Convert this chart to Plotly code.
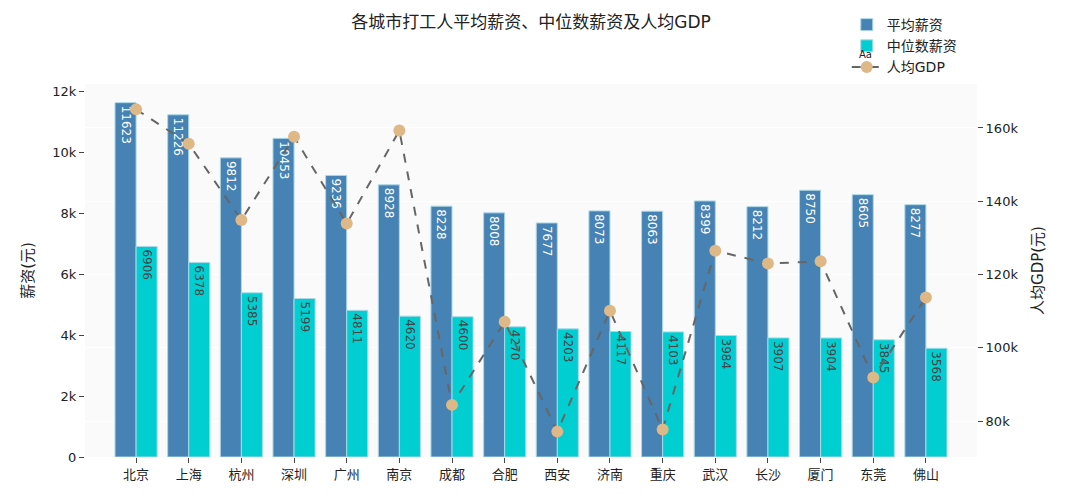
import plotly.graph_objects as go

cities = ["北京", "上海", "杭州", "深圳", "广州", "南京", "成都", "合肥", "西安", "济南", "重庆", "武汉", "长沙", "厦门", "东莞", "佛山"]
avg_salary = [11623, 11226, 9812, 10453, 9236, 8928, 8228, 8008, 7677, 8073, 8063, 8399, 8212, 8750, 8605, 8277]
median_salary = [6906, 6378, 5385, 5199, 4811, 4620, 4600, 4270, 4203, 4117, 4103, 3984, 3907, 3904, 3845, 3568]
gdp_per_capita = [165100, 155700, 134900, 157600, 133900, 159300, 84400, 107100, 77100, 110100, 77700, 126500, 123000, 123600, 91900, 113700]

font_family = "DejaVu Sans, Noto Sans CJK SC, sans-serif"

fig = go.Figure()
fig.add_trace(go.Bar(
    x=cities, y=avg_salary, name="平均薪资",
    marker=dict(color="#4682B4", line=dict(color="#ADD8E6", width=1)),
    text=avg_salary, textposition="inside", insidetextanchor="end", textangle=90,
    textfont=dict(color="white", size=12),
))
fig.add_trace(go.Bar(
    x=cities, y=median_salary, name="中位数薪资",
    marker=dict(color="#00CED1", line=dict(color="#ADD8E6", width=1)),
    text=median_salary, textposition="inside", insidetextanchor="end", textangle=90,
    textfont=dict(color="#444444", size=12),
))
fig.add_trace(go.Scatter(
    x=cities, y=gdp_per_capita, name="人均GDP", yaxis="y2",
    mode="lines+markers",
    line=dict(color="#666666", width=2, dash="dash"),
    marker=dict(color="#DEB887", size=12),
))

fig.update_layout(
    width=1080, height=503,
    margin=dict(l=77, r=111, t=76, b=54, autoexpand=False),
    paper_bgcolor="white", plot_bgcolor="#fafafa",
    font=dict(family=font_family, size=13, color="#444444"),
    title=dict(text="各城市打工人平均薪资、中位数薪资及人均GDP", x=0.5, xref="paper",
               y=1 - 14 / 503, yref="container", yanchor="middle",
               font=dict(size=17, color="#222222")),
    barmode="group", bargap=0.2, bargroupgap=0,
    showlegend=True,
    legend=dict(x=0.854, y=1.201, xref="paper", yref="paper",
                xanchor="left", yanchor="top", bgcolor="rgba(0,0,0,0)",
                font=dict(size=14, color="#222222")),
    annotations=[dict(text="Aa", xref="paper", yref="paper", x=0.8745, y=1.078,
                      xanchor="center", yanchor="middle", showarrow=False,
                      font=dict(size=10, color="#222222"))],
    xaxis=dict(range=[-0.97, 15.97], ticks="outside", ticklen=5, tickcolor="#444444",
               showgrid=False, tickfont=dict(size=13, color="#222222")),
    yaxis=dict(title=dict(text="薪资(元)", font=dict(size=15, color="#222222")),
               range=[0, 12235], dtick=2000, tickformat="~s", ticks="outside", ticklen=5,
               tickcolor="#444444", showgrid=False, zeroline=False,
               tickfont=dict(size=13, color="#222222")),
    yaxis2=dict(title=dict(text="人均GDP(元)", font=dict(size=15, color="#222222")),
                overlaying="y", side="right", range=[70170, 172010], dtick=20000,
                tickformat="~s", ticks="outside", ticklen=5, tickcolor="#444444",
                showgrid=True, gridcolor="white", gridwidth=1, zeroline=False,
                tickfont=dict(size=13, color="#222222")),
)

fig.write_html("out.html")
